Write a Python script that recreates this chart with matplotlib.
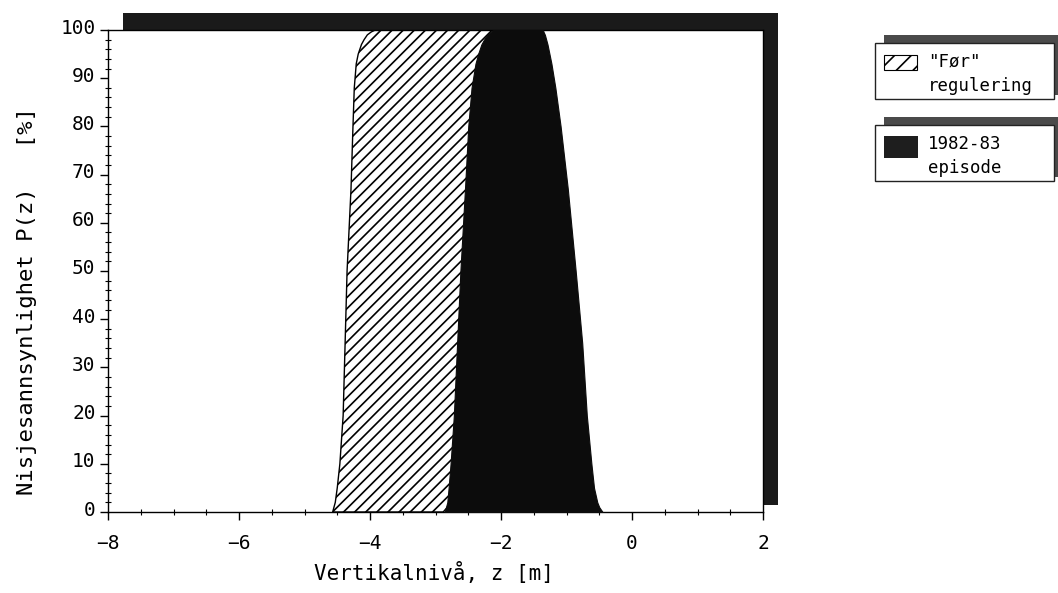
import matplotlib.pyplot as plt
from matplotlib.patches import Rectangle
from matplotlib.transforms import ScaledTranslation
import numpy as np

# probability levels P(z) [%]
p_levels = [0, 1, 2, 5, 10, 20, 35, 50, 67, 80, 88, 93, 95, 97, 98, 99, 99.6, 100]

# "Før" regulering: left / right boundary of the niche band (z in m)
for_left = [-4.57, -4.55, -4.53, -4.50, -4.46, -4.41, -4.38, -4.35, -4.29,
            -4.26, -4.24, -4.21, -4.18, -4.13, -4.09, -4.04, -3.98, -3.92]
for_right = [-2.88, -2.82, -2.78, -2.72, -2.65, -2.55, -2.45, -2.40, -2.30,
             -2.25, -2.20, -2.15, -2.10, -2.08, -2.05, -2.03, -2.01, -2.00]

# 1982-83 episode
epi_left = [-2.86, -2.84, -2.82, -2.80, -2.77, -2.72, -2.67, -2.62, -2.55,
            -2.50, -2.45, -2.39, -2.35, -2.30, -2.26, -2.21, -2.16, -2.12]
epi_right = [-0.45, -0.50, -0.53, -0.58, -0.62, -0.69, -0.76, -0.86, -0.98,
             -1.09, -1.17, -1.23, -1.26, -1.29, -1.31, -1.33, -1.35, -1.36]

legend_labels = ['"Før"\nregulering', '1982-83\nepisode']
xticks = [-8, -6, -4, -2, 0, 2]
yticks = [0, 10, 20, 30, 40, 50, 60, 70, 80, 90, 100]

W, H = 1058, 593
FONT = 'DejaVu Sans Mono'
plt.rcParams['font.family'] = FONT
plt.rcParams['hatch.linewidth'] = 1.2


def box(x0, y0, x1, y1):
    # pixel box (top-left origin) -> figure fraction rect
    return (x0 / W, 1 - y1 / H), (x1 - x0) / W, (y1 - y0) / H


fig = plt.figure(figsize=(W / 100, H / 100), dpi=100)
ax = fig.add_axes([108 / W, 1 - 512 / H, (763 - 108) / W, (512 - 30) / H])

# drop shadow behind the plot frame
xy, w, h = box(123, 13, 778, 505)
fig.patches.append(Rectangle(xy, w, h, transform=fig.transFigure,
                             facecolor='#1a1a1a', edgecolor='none', zorder=-1))

ax.fill_betweenx(p_levels, for_left, for_right, facecolor='white',
                 edgecolor='black', hatch='///', linewidth=1.0, zorder=2)
ax.fill_betweenx(p_levels, epi_left, epi_right, facecolor='#0c0c0c',
                 edgecolor='#0c0c0c', linewidth=0.8, zorder=3)

ax.set_xlim(-8, 2)
ax.set_ylim(0, 100)
ax.set_xticks(xticks)
ax.set_yticks(yticks)
ax.set_xticks(np.arange(-8, 2.01, 0.5), minor=True)
ax.set_yticks(np.arange(0, 100.1, 2), minor=True)
ax.set_xticklabels([f'{t:d}'.replace('-', '−') for t in xticks])
ax.tick_params(axis='both', which='major', direction='out', length=6, width=1,
               labelsize=14)
ax.tick_params(axis='both', which='minor', direction='inout', length=5, width=0.8)
ax.tick_params(axis='x', which='major', pad=10)
ax.tick_params(axis='y', which='major', pad=3)
# y labels sit a little above their tick, as on the original plotter output
up = ScaledTranslation(0, 4 / 100, fig.dpi_scale_trans)
for tick in ax.yaxis.get_major_ticks():
    tick.label1.set_transform(tick.label1.get_transform() + up)
for sp in ax.spines.values():
    sp.set_linewidth(1.0)

fig.text(434 / W, 1 - 573 / H, 'Vertikalnivå, z [m]', ha='center', va='center',
         fontsize=15, family=FONT)
fig.text(27 / W, 1 - 301 / H, 'Nisjesannsynlighet P(z)   [%]', ha='center',
         va='center', rotation=90, fontsize=16, family=FONT)

# legend boxes with shadows
boxes = [(875, 43, 1054, 99), (875, 125, 1054, 181)]
for i, (x0, y0, x1, y1) in enumerate(boxes):
    xy, w, h = box(x0 + 9, y0 - 8, x1 + 4, y1 - 4)
    fig.patches.append(Rectangle(xy, w, h, transform=fig.transFigure,
                                 facecolor='#4a4a4a', edgecolor='none', zorder=1))
    xy, w, h = box(x0, y0, x1, y1)
    fig.patches.append(Rectangle(xy, w, h, transform=fig.transFigure,
                                 facecolor='white', edgecolor='#222222',
                                 linewidth=1.0, zorder=2))
    if i == 0:
        xy, w, h = box(884, 55, 917, 70)
        fig.patches.append(Rectangle(xy, w, h, transform=fig.transFigure,
                                     facecolor='white', edgecolor='black',
                                     hatch='//', linewidth=0.8, zorder=3))
    else:
        xy, w, h = box(884, 136, 918, 158)
        fig.patches.append(Rectangle(xy, w, h, transform=fig.transFigure,
                                     facecolor='#1e1e1e', edgecolor='none', zorder=3))
    fig.text(928 / W, 1 - ((y0 + y1) / 2 + 3) / H, legend_labels[i], ha='left',
             va='center', fontsize=12.5, linespacing=1.45, family=FONT, zorder=4)

fig.savefig('out.png', dpi=100)
